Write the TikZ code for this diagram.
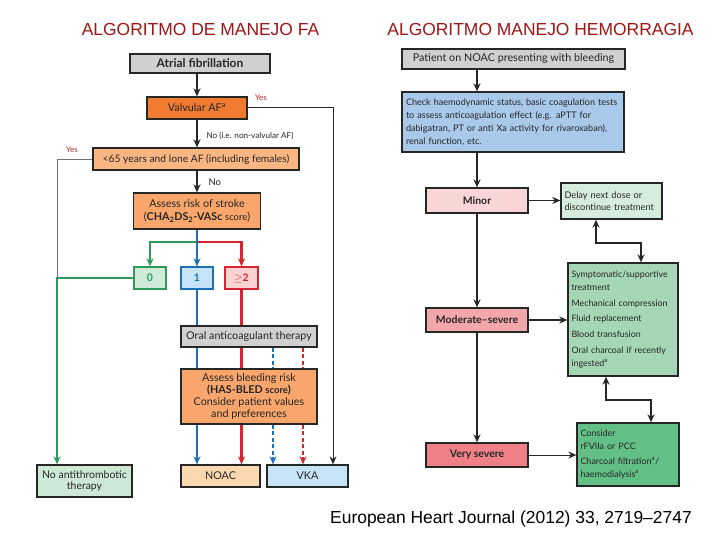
\documentclass[tikz,border=0pt]{standalone}
\usepackage{fontspec}
\setmainfont{Liberation Sans}
\newfontfamily\gillfont{Lato}
\usetikzlibrary{arrows.meta}
\definecolor{cgray}{HTML}{D0D0D0}
\definecolor{cvalv}{HTML}{F07A30}
\definecolor{clt}{HTML}{FAB682}
\definecolor{cstroke}{HTML}{F8A66C}
\definecolor{czg}{HTML}{CFEBD8}
\definecolor{czb}{HTML}{C6E4F7}
\definecolor{czr}{HTML}{FBD3D3}
\definecolor{cgreen}{HTML}{2E9A57}
\definecolor{cblue}{HTML}{1F6FB5}
\definecolor{cred}{HTML}{D3262E}
\definecolor{cnoac}{HTML}{FCD8B0}
\definecolor{cnoat}{HTML}{CDE9D6}
\definecolor{cchk}{HTML}{A8C9EA}
\definecolor{cminor}{HTML}{FAD5D5}
\definecolor{cdelay}{HTML}{D6ECDD}
\definecolor{cmod}{HTML}{F4A7AA}
\definecolor{csymp}{HTML}{A6D7B5}
\definecolor{cvsev}{HTML}{F08088}
\definecolor{ccons}{HTML}{62BF86}
\definecolor{ctitle}{HTML}{9E1616}
\definecolor{cyes}{HTML}{B22A2A}
\begin{document}
\begin{tikzpicture}[x=1bp,y=-1bp,
  bx/.style={draw=black!85, line width=1.3bp, inner sep=1bp, align=center,
    font=\gillfont\fontsize{10.8}{12.5}\selectfont, text=black!85},
  lbx/.style={bx, align=left, inner xsep=3bp, anchor=center},
  arr/.style={line width=1.8bp, draw=black!85, -{Stealth[length=8bp,width=7bp]}},
  tarr/.style={line width=1bp, draw=black!85, -{Stealth[length=8bp,width=7bp]}},
  colline/.style={line width=2.2bp, draw=#1, -{Stealth[length=8bp,width=7bp]}},
  colplain/.style={line width=2.2bp, draw=#1},
  dline/.style={line width=1.3bp, draw=#1, dash pattern=on 4bp off 2.5bp},
  dlinea/.style={dline=#1, -{Stealth[length=8bp,width=7bp]}},
  small/.style={font=\gillfont\fontsize{8.2}{9.5}\selectfont, text=black!85},
  yeslab/.style={font=\gillfont\fontsize{8}{9}\selectfont, text=cyes},
  title/.style={font=\fontsize{17.5}{20}\selectfont, text=ctitle},
  bbold/.style={font=\gillfont\bfseries\fontsize{10.5}{12}\selectfont}
]
\fill[white] (0,0) rectangle (720,540);
\useasboundingbox (0,0) rectangle (720,540);

% titles
\node[title] (t1) at (200.5,29.5) {ALGORITMO DE MANEJO FA};
\node[title] (t2) at (540.5,29.5) {ALGORITMO MANEJO HEMORRAGIA};
\node[font=\fontsize{17.5}{20}\selectfont, text=black] (cite) at (511,519) {European Heart Journal (2012) 33, 2719–2747};

% helper coordinates
\coordinate (gl) at (57,0);
\coordinate (bd) at (273,0);
\coordinate (rdd) at (303,0);
\coordinate (blk) at (333,0);
\coordinate (sj) at (197,242);

% ===== left diagram nodes =====
\node[bx, fill=cgray, minimum width=140bp, minimum height=19bp, font=\gillfont\bfseries\fontsize{12}{13}\selectfont] (af) at (200,63.5) {Atrial fibrillation};
\node[bx, fill=cvalv, minimum width=100bp, minimum height=22bp] (valv) at (197,108) {Valvular AF\textsuperscript{a}};
\node[bx, fill=clt, minimum width=206bp, minimum height=22bp, font=\gillfont\fontsize{10.3}{12}\selectfont] (lt) at (196,159) {<65 years and lone AF (including females)};
\node[bx, fill=cstroke, minimum width=127bp, minimum height=36bp, font=\gillfont\fontsize{10.8}{13}\selectfont] (stroke) at (197,211) {Assess risk of stroke\\({\bfseries CHA\textsubscript{2}DS\textsubscript{2}-VASc} {\fontsize{9.5}{11}\selectfont score})};
\node[bx, draw=cgreen, fill=czg, minimum width=32bp, minimum height=22bp, text=cgreen, bbold] (z0) at (150,278) {0};
\node[bx, draw=cblue, fill=czb, minimum width=32bp, minimum height=22bp, text=cblue, bbold] (z1) at (197,278) {1};
\node[bx, draw=cred, fill=czr, minimum width=33bp, minimum height=22bp, text=cred, bbold] (z2) at (241.5,278) {$\geq$2};
\node[bx, fill=cgray, minimum width=136bp, minimum height=21bp] (oac) at (249,336.5) {Oral anticoagulant therapy};
\node[bx, fill=cstroke, minimum width=136bp, minimum height=55bp, font=\gillfont\fontsize{10.8}{11.8}\selectfont] (bleed) at (249,396.5) {Assess bleeding risk\\{\bfseries (HAS-BLED {\fontsize{9.5}{11}\selectfont score})}\\Consider patient values\\and preferences};
\node[bx, fill=cnoac, minimum width=79bp, minimum height=22bp] (noac) at (220.5,476) {NOAC};
\node[bx, fill=czb, minimum width=81bp, minimum height=22bp] (vka) at (307.5,476) {VKA};
\node[bx, fill=cnoat, minimum width=95bp, minimum height=32bp, font=\gillfont\fontsize{10.5}{11.5}\selectfont] (noat) at (84.5,481) {No antithrombotic\\therapy};

% labels
\node[yeslab] (y1) at (261,98) {Yes};
\node[small, anchor=west] (nolab) at (203,136) {No (i.e. non-valvular AF)};
\node[yeslab] (y2) at (72,150) {Yes};
\node[small, font=\gillfont\fontsize{9.5}{10}\selectfont, anchor=west] (no2) at (205,182) {No};

% ===== left connectors =====
\draw[arr] (af.south -| valv) -- (valv.north);
\draw[arr] (valv.south) -- (valv.south |- lt.north);
\draw[arr] (lt.south -| stroke) -- (stroke.north);
\draw[tarr] (valv.east) -- (blk |- valv.east) -- (blk |- vka.north);
\draw[line width=0.9bp, draw=black!55] (lt.west) -- (gl |- lt.west) -- (gl |- z0.west);
\draw[line width=1.3bp, draw=cgreen, -{Stealth[length=8bp,width=7bp]}] (z0.west) -- (gl |- z0.west) -- (gl |- noat.north);
\draw[colline=cgreen] (sj) -| (z0.north);
\draw[colline=cred] (sj) -| (z2.north);
\draw[colline=cblue] (stroke.south) -- (z1.north);
\draw[colplain=cblue] (z1.south) -- (z1.south |- oac.north);
\draw[colplain=cred] (z2.south) -- (z2.south |- oac.north);
\draw[colplain=cblue] (oac.south -| z1) -- (bleed.north -| z1);
\draw[colplain=cred] (oac.south -| z2) -- (bleed.north -| z2);
\draw[colline=cblue] (bleed.south -| z1) -- (noac.north -| z1);
\draw[colline=cred] (bleed.south -| z2) -- (noac.north -| z2);
\draw[dline=cblue] (oac.south -| bd) -- (bleed.north -| bd);
\draw[dline=cred] (oac.south -| rdd) -- (bleed.north -| rdd);
\draw[dlinea=cblue] (bleed.south -| bd) -- (vka.north -| bd);
\draw[dlinea=cred] (bleed.south -| rdd) -- (vka.north -| rdd);

% ===== right diagram nodes =====
\node[bx, fill=cgray, minimum width=223bp, minimum height=20bp, font=\gillfont\fontsize{10.8}{12}\selectfont] (pat) at (513.5,59) {Patient on NOAC presenting with bleeding};
\node[lbx, fill=cchk, minimum width=222bp, minimum height=60bp, text width=214bp, font=\gillfont\fontsize{9.1}{13}\selectfont] (chk) at (513,122) {Check haemodynamic status, basic coagulation tests\\to assess anticoagulation effect (e.g. aPTT for\\dabigatran, PT or anti Xa activity for rivaroxaban),\\renal function, etc.};
\node[bx, fill=cminor, minimum width=102bp, minimum height=25bp, bbold] (minor) at (477,200.5) {Minor};
\node[lbx, fill=cdelay, minimum width=101bp, minimum height=36bp, text width=94bp, font=\gillfont\fontsize{9.2}{12.5}\selectfont] (delay) at (611.5,201) {Delay next dose or\\discontinue treatment};
\node[bx, fill=cmod, minimum width=102bp, minimum height=24bp, bbold] (mod) at (477,320) {Moderate–severe};
\node[lbx, fill=csymp, minimum width=110bp, minimum height=113bp, text width=103bp, font=\gillfont\fontsize{8.9}{12.5}\selectfont] (symp) at (623,319.5) {Symptomatic/supportive\\treatment\\[3.5bp]Mechanical compression\\[3.5bp]Fluid replacement\\[3.5bp]Blood transfusion\\[3.5bp]Oral charcoal if recently\\ingested\textsuperscript{a}};
\node[bx, fill=cvsev, minimum width=102bp, minimum height=24bp, bbold] (vsev) at (477,455) {Very severe};
\node[lbx, fill=ccons, minimum width=102bp, minimum height=63bp, text width=95bp, font=\gillfont\fontsize{9}{12.5}\selectfont] (cons) at (628,454.5) {Consider\\rFVIIa or PCC\\[3bp]Charcoal filtration\textsuperscript{a}/\\haemodialysis\textsuperscript{a}};

% ===== right connectors =====
\draw[arr] (pat.south -| minor) -- (chk.north -| minor);
\draw[arr] (chk.south -| minor) -- (minor.north);
\draw[arr] (minor.east) -- (minor.east -| delay.west);
\draw[line width=1.8bp, draw=black!85, {Stealth[length=8bp,width=7bp]}-{Stealth[length=8bp,width=7bp]}] ([xshift=-15.5bp]delay.south) -- ++(0,23) -| ([xshift=18bp]symp.north);
\draw[arr] (minor.south) -- (mod.north);
\draw[arr] (mod.east) -- (mod.east -| symp.west);
\draw[line width=1.8bp, draw=black!85, {Stealth[length=8bp,width=7bp]}-{Stealth[length=8bp,width=7bp]}] ([xshift=-17bp]symp.south) -- ++(0,23) -| ([xshift=23bp]cons.north);
\draw[arr] (mod.south) -- (vsev.north);
\draw[tarr] (vsev.east) -- (vsev.east -| cons.west);
\end{tikzpicture}
\end{document}
